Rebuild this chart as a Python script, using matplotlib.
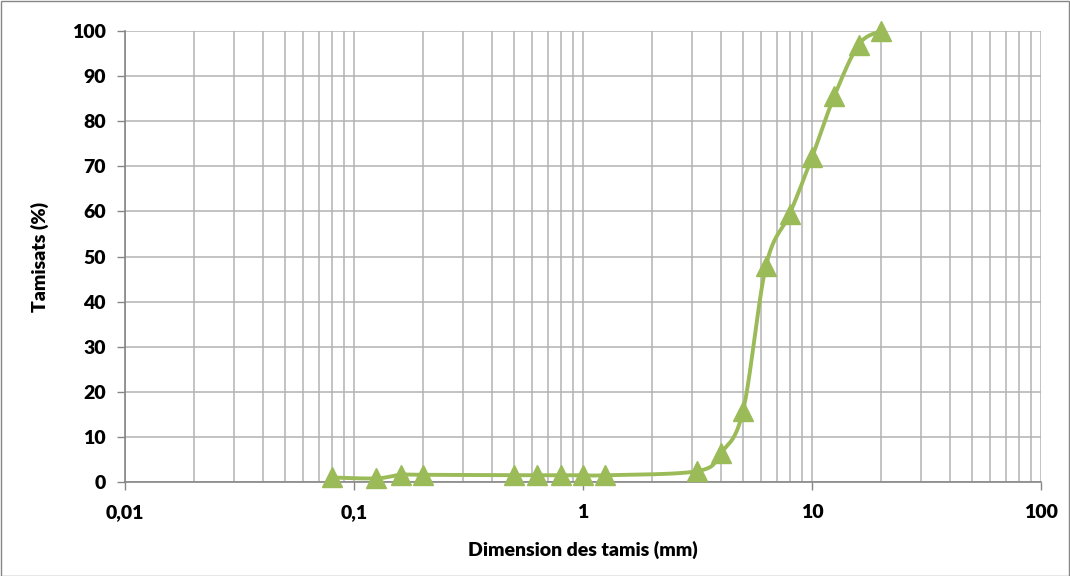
import numpy as np
import matplotlib
matplotlib.use("Agg")
import matplotlib.pyplot as plt
from matplotlib.ticker import LogLocator, FixedLocator, NullFormatter

# Data
sieve_mm = [0.08, 0.125, 0.16, 0.2, 0.5, 0.63, 0.8, 1, 1.25, 3.15, 4, 5, 6.3, 8, 10, 12.5, 16, 20]
passing_pct = [1.0, 0.8, 1.6, 1.6, 1.5, 1.5, 1.5, 1.5, 1.5, 2.4, 6.4, 15.8, 48, 59.5, 72, 85.5, 97, 100]
x_ticks = [0.01, 0.1, 1, 10, 100]
x_tick_labels = ["0,01", "0,1", "1", "10", "100"]
y_ticks = list(range(0, 101, 10))

GREEN = "#9BBB59"
GRID = "#b3b3b3"
FONT = "Lato"

fig = plt.figure(figsize=(10.7, 5.76), dpi=100)
ax = fig.add_axes([125/1070, 94/576, (1041-125)/1070, (482-31)/576])
ax.set_xscale("log")
ax.set_xlim(0.01, 100)
ax.set_ylim(0, 100)

# Smooth curve (Excel-like Bezier smoothing in display space)
fig.canvas.draw()
pts = ax.transData.transform(np.column_stack([sieve_mm, passing_pct]))
n = len(pts)
curve = []
for i in range(n - 1):
    p0 = pts[i - 1] if i > 0 else pts[i]
    p1 = pts[i]
    p2 = pts[i + 1]
    p3 = pts[i + 2] if i + 2 < n else pts[i + 1]
    c1 = p1 + (p2 - p0) / 6.0
    c2 = p2 - (p3 - p1) / 6.0
    t = np.linspace(0, 1, 40)[:, None]
    seg = (1 - t) ** 3 * p1 + 3 * (1 - t) ** 2 * t * c1 + 3 * (1 - t) * t ** 2 * c2 + t ** 3 * p2
    curve.append(seg if i == 0 else seg[1:])
curve = np.vstack(curve)
curve_data = ax.transData.inverted().transform(curve)
ax.plot(curve_data[:, 0], curve_data[:, 1], color=GREEN, lw=2.8, zorder=3, clip_on=False,
        solid_capstyle="round", solid_joinstyle="round")
ax.plot(sieve_mm, passing_pct, linestyle="none", marker="^", markersize=14,
        color=GREEN, zorder=4, clip_on=False)

# Grid
ax.xaxis.set_major_locator(FixedLocator(x_ticks))
ax.xaxis.set_minor_locator(LogLocator(base=10, subs=np.arange(2, 10)))
ax.xaxis.set_minor_formatter(NullFormatter())
ax.set_xticklabels(x_tick_labels)
ax.set_yticks(y_ticks)
ax.grid(True, which="major", axis="both", color=GRID, lw=1.1, zorder=0)
ax.grid(True, which="minor", axis="x", color=GRID, lw=1.1, zorder=0)
ax.set_axisbelow(True)

for side in ["top", "right"]:
    ax.spines[side].set_visible(False)
for side in ["left", "bottom"]:
    ax.spines[side].set_color("#868686")
    ax.spines[side].set_linewidth(1.2)

ax.tick_params(axis="both", which="major", direction="out", length=6, color="#868686", width=1.0,
               labelsize=14, pad=8)
ax.tick_params(axis="x", which="minor", length=0)
ax.tick_params(axis="x", which="major", pad=10)
for lab in ax.get_xticklabels() + ax.get_yticklabels():
    lab.set_fontfamily(FONT)
    lab.set_fontweight("heavy")

ax.set_xlabel("Dimension des tamis (mm)", fontsize=14, fontweight="heavy", fontfamily=FONT, labelpad=14)
ax.set_ylabel("Tamisats (%)", fontsize=14, fontweight="heavy", fontfamily=FONT, labelpad=16)

# Chart area border
fig.patches.append(plt.Rectangle((0.5/1070, 0.5/576), 1 - 1.5/1070, 1 - 1.5/576, transform=fig.transFigure,
                                 fill=False, edgecolor="#868686", lw=1.0))

fig.savefig("out.png", dpi=100)
